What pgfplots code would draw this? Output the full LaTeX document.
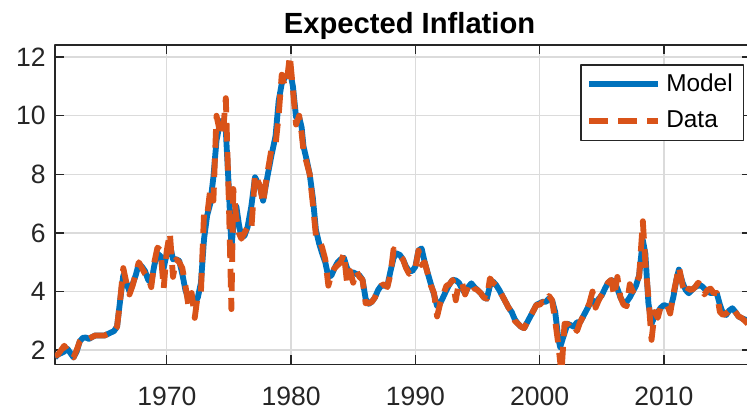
\documentclass[border=0pt]{standalone}
\usepackage{fontspec}
\setmainfont{Liberation Sans}
\usepackage{pgfplots}
\pgfplotsset{compat=1.18}
\definecolor{mblue}{rgb}{0,0.447,0.741}
\definecolor{morange}{rgb}{0.85,0.325,0.098}
\definecolor{axgray}{rgb}{0.15,0.15,0.15}
\definecolor{gridgray}{rgb}{0.86,0.86,0.86}
\begin{document}
\begin{tikzpicture}
\begin{axis}[name=ax, scale only axis, width=262.4pt, height=120.3pt,
  xmin=1961, xmax=2017, ymin=1.52, ymax=12.41,
  xtick={1970,1980,1990,2000,2010}, ytick={2,4,6,8,10,12},
  grid=major, major grid style={gridgray, line width=0.5pt},
  axis line style={axgray, line width=0.5pt},
  tick style={axgray, line width=0.5pt},
  major tick length=3.3pt, tick align=inside, tick pos=both,
  ticklabel style={font=\fontsize{10}{12}\selectfont, text=axgray},
  xticklabel style={anchor=base, yshift=-15.5pt},
  /pgf/number format/assume math mode=true,
  /pgf/number format/1000 sep={},
  title={\bfseries Expected Inflation},
  title style={font=\fontsize{11}{13}\selectfont, at={(0.5,1)}, anchor=base, yshift=-1.5pt, xshift=2.5pt},
  legend style={at={(0.99,0.94)}, anchor=north east, draw=axgray, line width=0.5pt,
    font=\fontsize{9.2}{11}\selectfont, row sep=2pt, inner xsep=2pt, inner ysep=1.2pt},
  legend cell align=left,
  legend image code/.code={\draw[#1] (0pt,0pt) -- (26pt,0pt);},
  line join=round,
]
\addplot[mblue, line width=2.2pt] coordinates {
(1961.0,1.75) (1961.25,1.85) (1961.5,1.9) (1961.75,1.95) (1962.0,2.05) (1962.25,1.9) (1962.5,1.75) (1962.75,1.95)
(1963.0,2.3) (1963.25,2.42) (1963.5,2.43) (1963.75,2.38) (1964.0,2.45) (1964.25,2.5) (1964.5,2.5) (1964.75,2.5)
(1965.0,2.5) (1965.25,2.55) (1965.5,2.6) (1965.75,2.65) (1966.0,2.8) (1966.25,3.7) (1966.5,4.55) (1966.75,4.3)
(1967.0,4.0) (1967.25,4.25) (1967.5,4.55) (1967.75,4.95) (1968.0,4.85) (1968.25,4.7) (1968.5,4.4) (1968.75,4.3)
(1969.0,4.9) (1969.25,5.3) (1969.5,5.2) (1969.75,4.8) (1970.0,5.3) (1970.25,5.6) (1970.5,5.1) (1970.75,5.1)
(1971.0,5.05) (1971.25,4.6) (1971.5,4.05) (1971.75,3.75) (1972.0,3.7) (1972.25,3.58) (1972.5,3.8) (1972.75,4.3)
(1973.0,5.8) (1973.25,6.6) (1973.5,7.0) (1973.75,7.9) (1974.0,9.15) (1974.25,9.7) (1974.5,9.85) (1974.75,9.5)
(1975.0,7.45) (1975.2,5.5) (1975.35,6.2) (1975.6,6.9) (1975.8,6.3) (1976.0,5.85) (1976.25,5.9) (1976.5,6.2)
(1976.8,6.9) (1977.1,7.9) (1977.5,7.55) (1977.75,7.1) (1978.0,7.7) (1978.4,8.6) (1978.75,9.3) (1979.0,10.5)
(1979.25,11.1) (1979.5,11.3) (1979.75,11.4) (1979.9,11.55) (1980.15,11.0) (1980.4,9.95) (1980.65,9.95) (1980.85,9.6)
(1981.0,8.95) (1981.25,8.5) (1981.5,8.0) (1981.75,7.2) (1982.0,6.1) (1982.25,5.65) (1982.5,5.3) (1982.75,5.0)
(1983.0,4.5) (1983.25,4.55) (1983.5,4.8) (1983.75,5.0) (1984.0,5.1) (1984.25,5.15) (1984.5,4.8) (1984.75,4.65)
(1985.0,4.65) (1985.25,4.6) (1985.5,4.55) (1985.75,4.4) (1986.0,3.75) (1986.25,3.58) (1986.5,3.65) (1986.75,3.8)
(1987.0,4.05) (1987.25,4.2) (1987.5,4.2) (1987.75,4.2) (1988.0,4.7) (1988.25,5.15) (1988.5,5.3) (1988.75,5.25)
(1989.0,5.1) (1989.25,4.85) (1989.5,4.7) (1989.75,4.7) (1990.0,4.85) (1990.25,5.4) (1990.5,5.47) (1990.75,5.0)
(1991.0,4.62) (1991.25,4.25) (1991.5,3.9) (1991.75,3.5) (1992.0,3.6) (1992.25,3.82) (1992.5,4.05) (1992.75,4.25)
(1993.0,4.4) (1993.25,4.38) (1993.5,4.3) (1993.75,4.1) (1994.0,3.94) (1994.25,4.15) (1994.5,4.28) (1994.75,4.15)
(1995.0,4.05) (1995.25,3.95) (1995.5,3.8) (1995.75,3.75) (1996.0,4.2) (1996.25,4.34) (1996.5,4.22) (1996.75,4.05)
(1997.0,3.85) (1997.25,3.65) (1997.5,3.45) (1997.75,3.3) (1998.0,3.05) (1998.25,2.9) (1998.5,2.8) (1998.75,2.75)
(1999.0,2.95) (1999.25,3.15) (1999.5,3.35) (1999.75,3.55) (2000.0,3.6) (2000.25,3.65) (2000.5,3.65) (2000.75,3.76)
(2001.0,3.7) (2001.25,3.3) (2001.5,2.4) (2001.65,2.1) (2001.9,2.45) (2002.25,2.9) (2002.5,2.85) (2002.75,2.8)
(2003.0,2.95) (2003.25,2.95) (2003.5,3.15) (2003.75,3.35) (2004.0,3.55) (2004.25,3.7) (2004.5,3.6) (2004.75,3.75)
(2005.0,3.87) (2005.25,4.1) (2005.5,4.3) (2005.75,4.39) (2006.0,4.35) (2006.25,4.1) (2006.5,3.8) (2006.75,3.6)
(2007.0,3.65) (2007.25,3.8) (2007.5,4.0) (2007.75,4.2) (2008.0,4.55) (2008.3,5.75) (2008.5,5.3) (2008.75,3.6)
(2009.0,2.9) (2009.25,3.15) (2009.5,3.3) (2009.75,3.45) (2010.0,3.54) (2010.25,3.5) (2010.5,3.4) (2010.75,3.8)
(2011.0,4.4) (2011.2,4.75) (2011.5,4.3) (2011.75,4.05) (2012.0,3.94) (2012.25,4.05) (2012.5,4.15) (2012.75,4.2)
(2013.0,4.2) (2013.25,4.1) (2013.5,4.0) (2013.75,3.95) (2014.0,3.95) (2014.25,3.94) (2014.5,3.55) (2014.75,3.25)
(2015.0,3.2) (2015.25,3.35) (2015.5,3.43) (2015.75,3.3) (2016.0,3.15) (2016.25,3.09) (2016.5,3.05) (2016.75,3.0)
};
\addlegendentry{Model}
\addplot[morange, line width=2.2pt, dash pattern=on 7pt off 4pt] coordinates {
(1961.0,1.8) (1961.25,1.85) (1961.5,2.0) (1961.75,2.15) (1962.0,2.0) (1962.25,1.8) (1962.5,1.75) (1962.75,2.0)
(1963.0,2.3) (1963.25,2.42) (1963.5,2.43) (1963.75,2.4) (1964.0,2.45) (1964.25,2.5) (1964.5,2.5) (1964.75,2.5)
(1965.0,2.5) (1965.25,2.55) (1965.5,2.6) (1965.75,2.65) (1966.0,2.8) (1966.25,3.7) (1966.5,4.8) (1966.75,4.3)
(1967.0,3.9) (1967.25,4.2) (1967.5,4.6) (1967.75,5.0) (1968.0,4.8) (1968.25,4.6) (1968.5,4.5) (1968.75,4.15)
(1969.0,5.0) (1969.25,5.5) (1969.5,5.4) (1969.75,4.1) (1970.0,5.4) (1970.25,6.0) (1970.5,4.5) (1970.75,5.1)
(1971.0,5.0) (1971.25,4.8) (1971.5,4.2) (1971.75,3.5) (1972.0,3.95) (1972.25,3.1) (1972.5,3.9) (1972.75,4.0)
(1973.0,6.7) (1973.25,6.6) (1973.5,7.5) (1973.75,7.1) (1974.0,10.0) (1974.25,9.5) (1974.5,9.3) (1974.75,10.6)
(1975.0,7.0) (1975.2,3.4) (1975.35,7.5) (1975.6,6.5) (1975.8,6.0) (1976.0,5.8) (1976.25,6.0) (1976.5,6.2)
(1976.8,6.1) (1977.1,8.0) (1977.5,7.6) (1977.75,7.0) (1978.0,7.8) (1978.4,8.8) (1978.75,9.0) (1979.0,10.0)
(1979.25,11.4) (1979.5,11.0) (1979.75,11.5) (1979.9,12.05) (1980.15,10.9) (1980.4,9.7) (1980.65,10.0) (1980.85,9.4)
(1981.0,8.8) (1981.25,8.4) (1981.5,8.0) (1981.75,7.0) (1982.0,5.9) (1982.25,5.8) (1982.5,5.5) (1982.75,5.1)
(1983.0,4.2) (1983.25,4.6) (1983.5,4.8) (1983.75,4.9) (1984.0,5.0) (1984.25,5.3) (1984.5,4.3) (1984.75,4.7)
(1985.0,4.3) (1985.25,4.7) (1985.5,4.5) (1985.75,4.4) (1986.0,3.6) (1986.25,3.6) (1986.5,3.65) (1986.75,3.8)
(1987.0,4.1) (1987.25,4.2) (1987.5,4.25) (1987.75,4.15) (1988.0,4.6) (1988.25,5.45) (1988.5,5.3) (1988.75,5.2)
(1989.0,5.1) (1989.25,4.8) (1989.5,4.6) (1989.75,4.75) (1990.0,4.8) (1990.25,5.4) (1990.5,4.9) (1990.75,5.0)
(1991.0,4.6) (1991.25,4.2) (1991.5,3.95) (1991.75,3.15) (1992.0,3.6) (1992.25,3.9) (1992.5,4.2) (1992.75,4.25)
(1993.0,4.4) (1993.25,3.7) (1993.5,4.3) (1993.75,4.3) (1994.0,3.9) (1994.25,4.2) (1994.5,4.3) (1994.75,4.1)
(1995.0,4.05) (1995.25,3.95) (1995.5,3.8) (1995.75,3.75) (1996.0,4.45) (1996.25,4.3) (1996.5,4.2) (1996.75,4.05)
(1997.0,3.85) (1997.25,3.65) (1997.5,3.45) (1997.75,3.3) (1998.0,3.0) (1998.25,2.9) (1998.5,2.8) (1998.75,2.75)
(1999.0,2.95) (1999.25,3.15) (1999.5,3.35) (1999.75,3.55) (2000.0,3.55) (2000.25,3.65) (2000.5,3.6) (2000.75,3.85)
(2001.0,3.7) (2001.25,3.0) (2001.5,2.2) (2001.75,1.2) (2002.0,2.9) (2002.25,2.9) (2002.5,2.75) (2002.75,2.85)
(2003.0,2.65) (2003.25,2.95) (2003.5,3.15) (2003.75,3.35) (2004.0,3.6) (2004.25,4.0) (2004.5,3.45) (2004.75,3.7)
(2005.0,3.9) (2005.25,4.1) (2005.5,4.3) (2005.75,4.4) (2006.0,3.85) (2006.25,4.5) (2006.5,3.8) (2006.75,3.55)
(2007.0,3.5) (2007.25,4.25) (2007.5,4.0) (2007.75,4.3) (2008.0,4.5) (2008.3,6.4) (2008.5,5.0) (2008.75,3.8)
(2009.0,2.35) (2009.25,3.3) (2009.5,3.1) (2009.75,3.5) (2010.0,3.55) (2010.25,3.55) (2010.5,3.25) (2010.75,3.9)
(2011.0,4.4) (2011.2,4.85) (2011.5,4.2) (2011.75,3.9) (2012.0,4.1) (2012.25,4.05) (2012.5,4.15) (2012.75,4.3)
(2013.0,4.2) (2013.25,3.9) (2013.5,4.05) (2013.75,4.1) (2014.0,3.95) (2014.25,3.95) (2014.5,3.3) (2014.75,3.2)
(2015.0,3.25) (2015.25,3.35) (2015.5,3.45) (2015.75,3.3) (2016.0,3.15) (2016.25,3.1) (2016.5,3.0) (2016.75,2.9)
};
\addlegendentry{Data}
\end{axis}
\pgfresetboundingbox
\path[use as bounding box] ([xshift=-20.7pt,yshift=-17pt]ax.south west) rectangle ([xshift=-1.5pt,yshift=17pt]ax.north east);
\end{tikzpicture}
\end{document}
